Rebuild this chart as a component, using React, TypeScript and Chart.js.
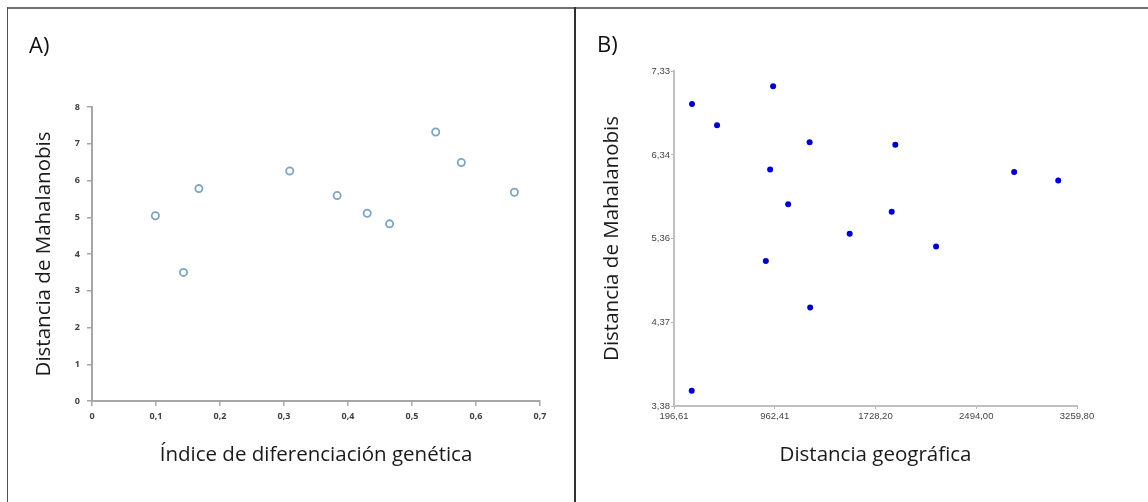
import React, { useEffect, useRef } from "react";
import { Chart, registerables } from "chart.js";

Chart.register(...registerables);

// Panel A data
const geneticIndex = [0.099, 0.143, 0.167, 0.309, 0.383, 0.43, 0.465, 0.537, 0.577, 0.66];
const mahalanobisA = [5.04, 3.5, 5.78, 6.26, 5.59, 5.11, 4.82, 7.32, 6.49, 5.68];
const xTicksA = [0, 0.1, 0.2, 0.3, 0.4, 0.5, 0.6, 0.7];
const xTickLabelsA = ["0", "0,1", "0,2", "0,3", "0,4", "0,5", "0,6", "0,7"];
const yTicksA = [0, 1, 2, 3, 4, 5, 6, 7, 8];
const yTickLabelsA = ["0", "1", "2", "3", "4", "5", "6", "7", "8"];

// Panel B data
const geoDistance = [333.6, 950.2, 523.9, 1227.3, 1878.9, 927.4, 2782.4, 3117.4, 1064.4, 1851.5, 1531.8, 2188.7, 894.6, 1231.9, 331.3];
const mahalanobisB = [6.94, 7.15, 6.69, 6.49, 6.46, 6.17, 6.14, 6.04, 5.76, 5.67, 5.41, 5.26, 5.09, 4.54, 3.56];
const xTicksB = [196.61, 962.41, 1728.2, 2494.0, 3259.8];
const xTickLabelsB = ["196,61", "962,41", "1728,20", "2494,00", "3259,80"];
const yTicksB = [3.38, 4.37, 5.36, 6.34, 7.33];
const yTickLabelsB = ["3,38", "4,37", "5,36", "6,34", "7,33"];

const TITLE_FONT = "'Open Sans', 'Noto Sans', sans-serif";
const TITLE_SIZE = 20.5;

function useChart(ref: React.RefObject<HTMLCanvasElement>, make: (c: HTMLCanvasElement) => Chart) {
  useEffect(() => {
    if (!ref.current) return;
    const chart = make(ref.current);
    return () => chart.destroy();
  }, []);
}

function PanelA() {
  const ref = useRef<HTMLCanvasElement>(null);
  useChart(ref, (c) =>
    new Chart(c, {
      type: "scatter",
      data: {
        datasets: [
          {
            data: geneticIndex.map((x, i) => ({ x, y: mahalanobisA[i] })),
            pointStyle: "circle",
            pointRadius: 3.6,
            pointBorderWidth: 1.8,
            pointBorderColor: "#7ea5c4",
            pointBackgroundColor: "#ffffff",
          },
        ],
      },
      options: {
        responsive: false,
        animation: false,
        events: [],
        layout: { padding: { top: 107, right: 35, left: 0, bottom: 0 } },
        plugins: { legend: { display: false }, tooltip: { enabled: false } },
        scales: {
          x: {
            type: "linear",
            min: 0,
            max: 0.7,
            afterBuildTicks: (s: any) => {
              s.ticks = xTicksA.map((v) => ({ value: v }));
            },
            afterFit: (s: any) => {
              s.height = 101;
            },
            grid: { drawOnChartArea: false, drawTicks: true, tickLength: 5, color: "#a6a6a6", lineWidth: 1.5 },
            border: { display: true, color: "#a6a6a6", width: 2 },
            ticks: {
              padding: 5,
              maxRotation: 0,
              color: "#404040",
              font: { family: TITLE_FONT, size: 9, weight: "bold" },
              callback: (_v: any, i: number) => xTickLabelsA[i],
            },
            title: {
              display: true,
              text: "Índice de diferenciación genética",
              color: "#1a1a1a",
              font: { family: TITLE_FONT, size: TITLE_SIZE },
              padding: { top: 0, bottom: 34.5 },
            },
          },
          y: {
            type: "linear",
            min: 0,
            max: 8,
            afterBuildTicks: (s: any) => {
              s.ticks = yTicksA.map((v) => ({ value: v }));
            },
            afterFit: (s: any) => {
              s.width = 92;
            },
            grid: { drawOnChartArea: false, drawTicks: true, tickLength: 5, color: "#a6a6a6", lineWidth: 1.5 },
            border: { display: true, color: "#a6a6a6", width: 2 },
            ticks: {
              padding: 7,
              color: "#404040",
              font: { family: TITLE_FONT, size: 9, weight: "bold" },
              callback: (_v: any, i: number) => yTickLabelsA[i],
            },
            title: {
              display: true,
              text: "Distancia de Mahalanobis",
              color: "#1a1a1a",
              font: { family: TITLE_FONT, size: TITLE_SIZE },
              padding: { top: 31.5, bottom: 0 },
            },
          },
        },
      },
    } as any)
  );
  return (
    <canvas
      ref={ref}
      width={575}
      height={502}
      style={{ position: "absolute", left: 0, top: 0, width: 575, height: 502 }}
    />
  );
}

function PanelB() {
  const ref = useRef<HTMLCanvasElement>(null);
  useChart(ref, (c) =>
    new Chart(c, {
      type: "scatter",
      data: {
        datasets: [
          {
            data: geoDistance.map((x, i) => ({ x, y: mahalanobisB[i] })),
            pointStyle: "circle",
            pointRadius: 3,
            pointBorderWidth: 0,
            pointBorderColor: "#0000cc",
            pointBackgroundColor: "#0000cc",
          },
        ],
      },
      options: {
        responsive: false,
        animation: false,
        events: [],
        layout: { padding: { top: 71, right: 71, left: 0, bottom: 0 } },
        plugins: { legend: { display: false }, tooltip: { enabled: false } },
        scales: {
          x: {
            type: "linear",
            min: 196.61,
            max: 3259.8,
            afterBuildTicks: (s: any) => {
              s.ticks = xTicksB.map((v) => ({ value: v }));
            },
            afterFit: (s: any) => {
              s.height = 96;
            },
            grid: { drawOnChartArea: false, drawTicks: true, tickLength: 3, color: "#b4b4b4", lineWidth: 1 },
            border: { display: true, color: "#c0c0c0", width: 2 },
            ticks: {
              padding: 2,
              maxRotation: 0,
              color: "#444444",
              font: { family: "'Liberation Sans', Arial, sans-serif", size: 9.5 },
              callback: (_v: any, i: number) => xTickLabelsB[i],
            },
            title: {
              display: true,
              text: "Distancia geográfica",
              color: "#1a1a1a",
              font: { family: TITLE_FONT, size: TITLE_SIZE },
              padding: { top: 0, bottom: 34.5 },
            },
          },
          y: {
            type: "linear",
            min: 3.38,
            max: 7.33,
            afterBuildTicks: (s: any) => {
              s.ticks = yTicksB.map((v) => ({ value: v }));
            },
            afterFit: (s: any) => {
              s.width = 99;
            },
            grid: { drawOnChartArea: false, drawTicks: true, tickLength: 3, color: "#b4b4b4", lineWidth: 1 },
            border: { display: true, color: "#c0c0c0", width: 2 },
            ticks: {
              padding: 1,
              color: "#444444",
              font: { family: "'Liberation Sans', Arial, sans-serif", size: 9.5 },
              callback: (_v: any, i: number) => yTickLabelsB[i],
            },
            title: {
              display: true,
              text: "Distancia de Mahalanobis",
              color: "#1a1a1a",
              font: { family: TITLE_FONT, size: TITLE_SIZE },
              padding: { top: 24.5, bottom: 0 },
            },
          },
        },
      },
    } as any)
  );
  return (
    <canvas
      ref={ref}
      width={573}
      height={502}
      style={{ position: "absolute", left: 575, top: 0, width: 573, height: 502 }}
    />
  );
}

export default function App() {
  const label: React.CSSProperties = {
    position: "absolute",
    fontFamily: TITLE_FONT,
    fontSize: 22,
    color: "#111",
    lineHeight: "26px",
  };
  return (
    <div
      style={{
        position: "absolute",
        left: 0,
        top: 0,
        width: 1148,
        height: 502,
        background: "#ffffff",
        overflow: "hidden",
      }}
    >
      <PanelA />
      <PanelB />
      <div style={{ position: "absolute", left: 7, top: 7, width: 1141, height: 2, background: "#707070" }} />
      <div style={{ position: "absolute", left: 7, top: 7, width: 1, height: 495, background: "#505050" }} />
      <div style={{ position: "absolute", left: 574, top: 7, width: 2, height: 495, background: "#303030" }} />
      <div style={{ ...label, left: 29, top: 31 }}>A)</div>
      <div style={{ ...label, left: 597, top: 30 }}>B)</div>
    </div>
  );
}
